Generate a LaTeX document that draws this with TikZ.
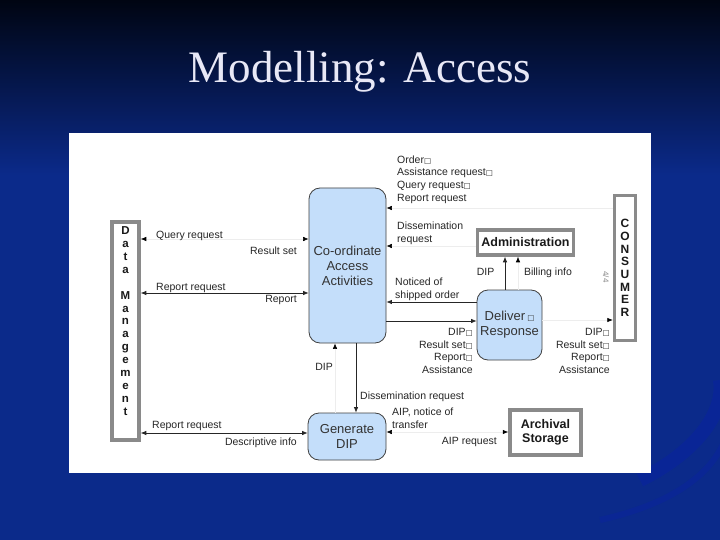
\documentclass[tikz,border=0pt]{standalone}
\usepackage{fontspec}
\setmainfont{Liberation Sans}
\newfontfamily\titlefont{Liberation Serif}
\newfontfamily\symfont{DejaVu Sans}
\usetikzlibrary{arrows.meta}
\definecolor{bgblue}{HTML}{0B2A8A}
\definecolor{bgtop}{HTML}{000512}
\definecolor{procblue}{HTML}{C4DEFA}
\definecolor{titlecol}{HTML}{E8E8F6}
\definecolor{boxgray}{HTML}{8A8A8A}
\newcommand{\sqx}{{\symfont\fontsize{7.5}{7.5}\selectfont □}}
\begin{document}
\begin{tikzpicture}[x=1pt,y=-1pt,
  proc/.style={draw=black!75, line width=0.8pt, fill=procblue, rounded corners=11pt,
    inner sep=0pt, align=center, text=black!80, font=\fontsize{13}{15}\selectfont},
  gbox/.style={draw=boxgray, line width=3.5pt, fill=white, inner sep=0pt, align=center,
    text=black!90},
  lbl/.style={inner sep=0pt, text=black!85, font=\fontsize{10.5}{12.7}\selectfont},
  con/.style={draw=black!85, line width=0.7pt, -{Latex[length=5.5pt,width=4.5pt]}},
  conb/.style={draw=black!85, line width=0.7pt, {Latex[length=5.5pt,width=4.5pt]}-{Latex[length=5.5pt,width=4.5pt]}},
  faint/.style={draw=black!7, line width=0.6pt, -{Latex[length=5.5pt,width=4.5pt,black]}},
  faintb/.style={draw=black!7, line width=0.6pt, {Latex[length=5.5pt,width=4.5pt,black]}-{Latex[length=5.5pt,width=4.5pt,black]}}
]
\useasboundingbox (0,0) rectangle (720,540);
% background
\fill[bgblue] (0,0) rectangle (720,540);
\shade[top color=bgtop, bottom color=bgblue] (0,0) rectangle (720,175);
\draw[line width=14pt, blue!55!bgblue, opacity=0.2] (640,480) .. controls (700,450) and (725,410) .. (720,380);
\draw[line width=6pt, blue!45!bgblue, opacity=0.2] (600,520) .. controls (690,500) and (725,460) .. (730,420);
% title
\node[font=\titlefont\fontsize{45}{50}\selectfont, text=titlecol] (title) at (360,72) {Modelling: Access};
% panel
\fill[white] (69,133) rectangle (651,473);

% boxes
\node[gbox, minimum width=27pt, minimum height=218pt] (dm) at (125.5,331) {};
\node[inner sep=0pt, align=center, text=black!90, font=\fontsize{11.5}{12.9}\selectfont\bfseries] (dmtext) at (125.5,321)
  {D\\a\\t\\a\\[12.9pt]M\\a\\n\\a\\g\\e\\m\\e\\n\\t};
\node[gbox, minimum width=21pt, minimum height=145pt, font=\fontsize{12}{12.7}\selectfont\bfseries] (cons) at (625,268)
  {C\\O\\N\\S\\U\\M\\E\\R};
\node[gbox, minimum width=96pt, minimum height=25pt, font=\fontsize{12.5}{14}\selectfont\bfseries] (adm) at (525.5,242.5) {Administration};
\node[gbox, minimum width=71pt, minimum height=45pt, font=\fontsize{12.5}{14}\selectfont\bfseries] (arch) at (545.5,432.5) {Archival\\Storage};
\node[proc, minimum width=77pt, minimum height=155pt] (co) at (347.5,265.5) {Co-ordinate\\Access\\Activities};
\node[proc, minimum width=65pt, minimum height=70pt] (dr) at (509.5,325) {Deliver\,\sqx\\Response};
\node[proc, minimum width=78pt, minimum height=47pt] (gd) at (347,436.5) {Generate\\DIP};

% helper levels
\coordinate (h208) at (0,208);
\coordinate (h246) at (0,246);
\coordinate (h239) at (0,239);
\coordinate (h293) at (0,293);
\coordinate (h302) at (0,302);
\coordinate (h321) at (0,321);
\coordinate (h320) at (0,320);
\coordinate (h432) at (0,432);
\coordinate (h433) at (0,433);
\coordinate (v505) at (505,0);
\coordinate (v518) at (518,0);
\coordinate (v335) at (335,0);
\coordinate (v356) at (356,0);

% connectors
\draw[faint] (cons.west |- h208) -- (co.east |- h208);
\draw[faint] (adm.west |- h246) -- (co.east |- h246);
\draw[con] (dr.north -| v505) -- (adm.south -| v505);
\draw[faint] (dr.north -| v518) -- (adm.south -| v518);
\draw[con] (dr.west |- h302) -- (co.east |- h302);
\draw[con] (co.east |- h321) -- (dr.west |- h321);
\draw[faint] (dr.east |- h320) -- (cons.west |- h320);
\draw[faintb] (dm.east |- h239) -- (co.west |- h239);
\draw[conb] (dm.east |- h293) -- (co.west |- h293);
\draw[faint] (gd.north -| v335) -- (co.south -| v335);
\draw[con] (co.south -| v356) -- (gd.north -| v356);
\draw[faintb] (gd.east |- h432) -- (arch.west |- h432);
\draw[conb] (dm.east |- h433) -- (gd.west |- h433);

% labels
\node[lbl, anchor=west, align=left] (l1) at (397,179.5) {Order\sqx\\Assistance request\sqx\\Query request\sqx\\Report request};
\node[lbl, anchor=west, align=left] (l2) at (397,233) {Dissemination\\request};
\node[lbl] (l3) at (485.5,272) {DIP};
\node[lbl] (l4) at (548,273) {Billing info};
\node[lbl, anchor=west, align=left] (l5) at (395,289.5) {Noticed of\\shipped order};
\node[lbl, anchor=east, align=right] (l6) at (473,351) {DIP\sqx\\Result set\sqx\\Report\sqx\\Assistance};
\node[lbl, anchor=east, align=right] (l7) at (610,351) {DIP\sqx\\Result set\sqx\\Report\sqx\\Assistance};
\node[lbl] (l8) at (324,367) {DIP};
\node[lbl, anchor=west] (l9) at (360,397) {Dissemination request};
\node[lbl, anchor=west, align=left] (l10) at (392,418) {AIP, notice of\\transfer};
\node[lbl, anchor=east] (l11) at (497,442) {AIP request};
\node[lbl, anchor=west] (l12) at (156,236) {Query request};
\node[lbl, anchor=east] (l13) at (297,251) {Result set};
\node[lbl, anchor=west] (l14) at (156,288) {Report request};
\node[lbl, anchor=east] (l15) at (297,300) {Report};
\node[lbl, anchor=west] (l16) at (152,426) {Report request};
\node[lbl, anchor=east] (l17) at (297,443) {Descriptive info};
\node[inner sep=0pt, rotate=-90, text=black!45, font=\fontsize{8}{8}\selectfont] (pg) at (606,277) {4/4};
\end{tikzpicture}
\end{document}
